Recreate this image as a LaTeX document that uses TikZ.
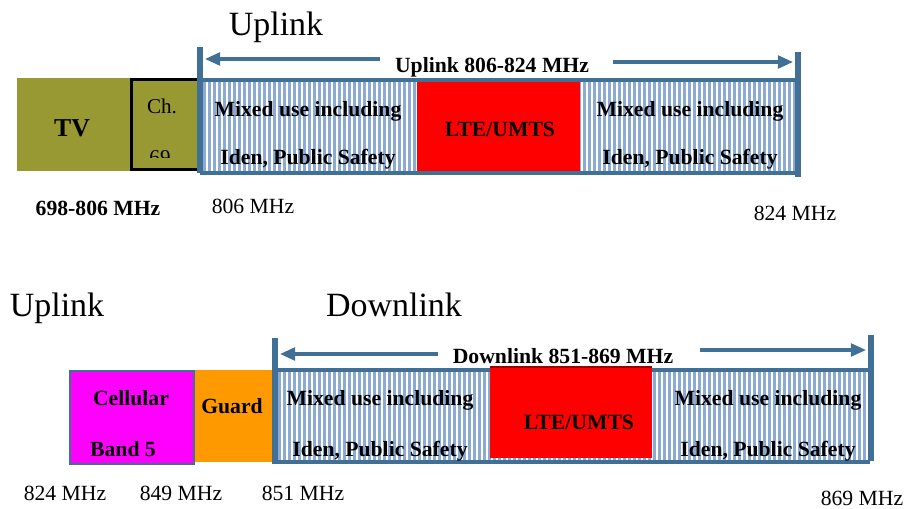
\documentclass[tikz,border=0pt]{standalone}
\usepackage{fontspec}
\setmainfont{Liberation Serif}
\usetikzlibrary{arrows.meta}
\definecolor{tvolive}{RGB}{153,153,51}
\definecolor{bandblue}{RGB}{65,112,150}
\definecolor{stripeblue}{RGB}{140,170,210}
\definecolor{guardorange}{RGB}{255,153,0}
\definecolor{cellmagenta}{RGB}{255,0,255}
\newcommand{\bandstripes}[4]{% left, top, right, bottom
  \begin{scope}
  \clip (#1,#2) rectangle (#3,#4);
  \fill[stripeblue] (#1,#2) rectangle (#3,#4);
  \foreach \k in {0,...,125} {\draw[white,line width=1.3pt] (#1+2+5*\k,#2) -- (#1+2+5*\k,#4);}
  \end{scope}
}
\begin{document}
\begin{tikzpicture}[x=0.03cm,y=-0.03cm,
  lbl/.style={font=\fontsize{18.5}{20}\selectfont\bfseries,inner sep=0pt},
  freq/.style={font=\fontsize{18.5}{20}\selectfont,inner sep=0pt,anchor=base},
  ttl/.style={font=\fontsize{29}{32}\selectfont,inner sep=0pt,anchor=base},
  bandedge/.style={draw=bandblue,line width=2.6pt},
  bandbar/.style={bandblue,line width=4.5pt},
  bandarrow/.style={bandblue,line width=2.6pt,-{Triangle[length=13pt,width=11pt]}}]
\useasboundingbox (0,0) rectangle (907,508);
% ---- top row: 806-824 uplink
\node[ttl] (upttl) at (276,36) {Uplink};
\fill[tvolive] (17,78) rectangle (130,171);
\node[lbl,font=\fontsize{22}{24}\selectfont\bfseries] (tv) at (72,128) {TV};
\fill[tvolive] (130,78) rectangle (198,171);
\draw[black,line width=3.4pt] (199,79.5) -- (131.5,79.5) -- (131.5,169.5) -- (199,169.5);
\node[freq,font=\fontsize{18}{20}\selectfont] (ch) at (162,114) {Ch.};
\begin{scope}
\clip (130,78) rectangle (198,157);
\node[freq,font=\fontsize{18}{20}\selectfont] (ch69) at (160,164) {69};
\end{scope}
\bandstripes{200}{80}{797}{173}
\fill[red] (417,82) rectangle (580,175);
\draw[bandedge] (200,80) -- (797,80);
\draw[bandedge] (200,173) -- (797,173);
\node[lbl,anchor=base] (mixa1) at (308,117) {Mixed use including};
\node[lbl,anchor=base] (mixa2) at (308,164) {Iden, Public Safety};
\node[lbl,anchor=base] (ltea) at (500,137) {LTE/UMTS};
\node[lbl,anchor=base] (mixb1) at (690,117) {Mixed use including};
\node[lbl,anchor=base] (mixb2) at (690,164) {Iden, Public Safety};
\coordinate (barUL) at (200,47);
\coordinate (barUR) at (798,52);
\draw[bandbar] (barUL) -- (200,173);
\draw[bandbar] (barUR) -- (798,177);
\node[lbl,anchor=base] (uprange) at (492,73) {Uplink 806-824 MHz};
\coordinate (upA) at (380,59);
\coordinate (upB) at (613,62);
\draw[bandarrow] (upA) -- ([xshift=0.15cm]upA -| barUL);
\draw[bandarrow] (upB) -- ([xshift=-0.15cm]upB -| barUR);
\node[lbl,anchor=base] (tvrange) at (98,215) {698-806 MHz};
\node[freq] (f806) at (253,213) {806 MHz};
\node[freq] (f824a) at (795,220) {824 MHz};
% ---- bottom row: 851-869 downlink
\node[ttl] (ulttl) at (57,316) {Uplink};
\node[ttl] (dlttl) at (394,316) {Downlink};
\fill[cellmagenta] (70,371) rectangle (194,464);
\draw[bandblue,line width=2pt] (70,371) rectangle (194,464);
\node[lbl,anchor=base] (cell1) at (131,405) {Cellular};
\node[lbl,anchor=base] (cell2) at (123,456) {Band 5};
\fill[guardorange] (195,370) rectangle (274,462);
\node[lbl,anchor=base] (guard) at (232,413) {Guard};
\bandstripes{275}{370}{870}{462}
\fill[red] (490,367) rectangle (652,458);
\draw[red!60!black,line width=1pt] (490,367) -- (652,367);
\draw[bandedge] (275,370) -- (490,370) (652,370) -- (870,370);
\draw[bandedge] (275,462) -- (870,462);
\node[lbl,anchor=base] (mixc1) at (380,405) {Mixed use including};
\node[lbl,anchor=base] (mixc2) at (380,456) {Iden, Public Safety};
\node[lbl,anchor=base] (lteb) at (579,429) {LTE/UMTS};
\node[lbl,anchor=base] (mixd1) at (768,405) {Mixed use including};
\node[lbl,anchor=base] (mixd2) at (768,456) {Iden, Public Safety};
\coordinate (barDL) at (275,338);
\coordinate (barDR) at (871,335);
\draw[bandbar] (barDL) -- (275,464);
\draw[bandbar] (barDR) -- (871,461);
\node[lbl,anchor=base] (dnrange) at (563,363) {Downlink 851-869 MHz};
\coordinate (dnA) at (438,354);
\coordinate (dnB) at (700,350);
\draw[bandarrow] (dnA) -- ([xshift=0.15cm]dnA -| barDL);
\draw[bandarrow] (dnB) -- ([xshift=-0.15cm]dnB -| barDR);
\node[freq] (f824b) at (65,500) {824 MHz};
\node[freq] (f849) at (181,500) {849 MHz};
\node[freq] (f851) at (303,500) {851 MHz};
\node[freq] (f869) at (862,505) {869 MHz};
\end{tikzpicture}
\end{document}
